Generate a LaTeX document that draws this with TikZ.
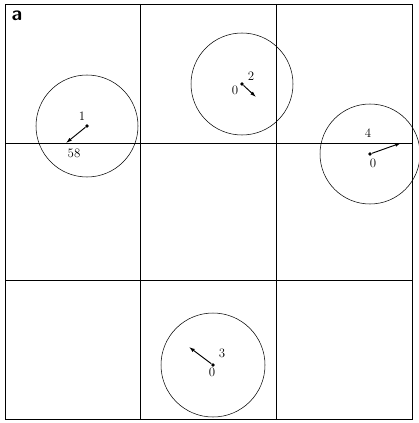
\documentclass[tikz,border=0pt]{standalone}
\usetikzlibrary{arrows.meta}

\begin{document}
\begin{tikzpicture}[
	x=0.03cm,y=-0.03cm,
	>={Latex[length=5pt,width=3.2pt]},
	every node/.style={font=\fontsize{11}{13}\selectfont, inner sep=1pt},
	cell/.style={line width=0.6pt},
	ring/.style={line width=0.45pt},
	vec/.style={->, line width=0.8pt},
	pivot/.style={circle, fill, inner sep=0pt, minimum size=3.2pt}
	]
	\useasboundingbox (0,0) rectangle (418,423);
	
	% --------------------------
	% outer box and 3x3 cells
	% --------------------------
	\draw[cell] (5,4) rectangle (412,419);
	\draw[cell] (140,4) -- (140,419);
	\draw[cell] (276,4) -- (276,419);
	\draw[cell] (5,143) -- (412,143);
	\draw[cell] (5,280) -- (412,280);
	
	% panel letter
	\node[font=\LARGE\bfseries\sffamily] (tag) at (17,16) {a};
	
	% --------------------------
	% particles: centre, velocity, range
	% --------------------------
	\node[pivot] (p1) at (87,126) {};
	\coordinate (t1) at (66,143);
	\draw[ring] (p1.center) circle[radius=51];
	\draw[vec] (p1) -- (t1);
	\node (l1) at (82,116) {1};
	\node (n1) at (74,153) {58};
	
	\node[pivot] (p2) at (242,84) {};
	\coordinate (t2) at (256,97);
	\draw[ring] (p2.center) circle[radius=51];
	\draw[vec] (p2) -- (t2);
	\node (l2) at (251,76) {2};
	\node (n2) at (235,90) {0};
	
	\node[pivot] (p3) at (213,365) {};
	\coordinate (t3) at (189,347);
	\draw[ring] (p3.center) circle[radius=52];
	\draw[vec] (p3) -- (t3);
	\node (l3) at (222,353) {3};
	\node (n3) at (212,372) {0};
	
	\node[pivot] (p4) at (370,154) {};
	\coordinate (t4) at (401,143);
	\draw[ring] (p4.center) circle[radius=50];
	\draw[vec] (p4) -- (t4);
	\node (l4) at (368,133) {4};
	\node (n4) at (373,163) {0};
	
\end{tikzpicture}
\end{document}
